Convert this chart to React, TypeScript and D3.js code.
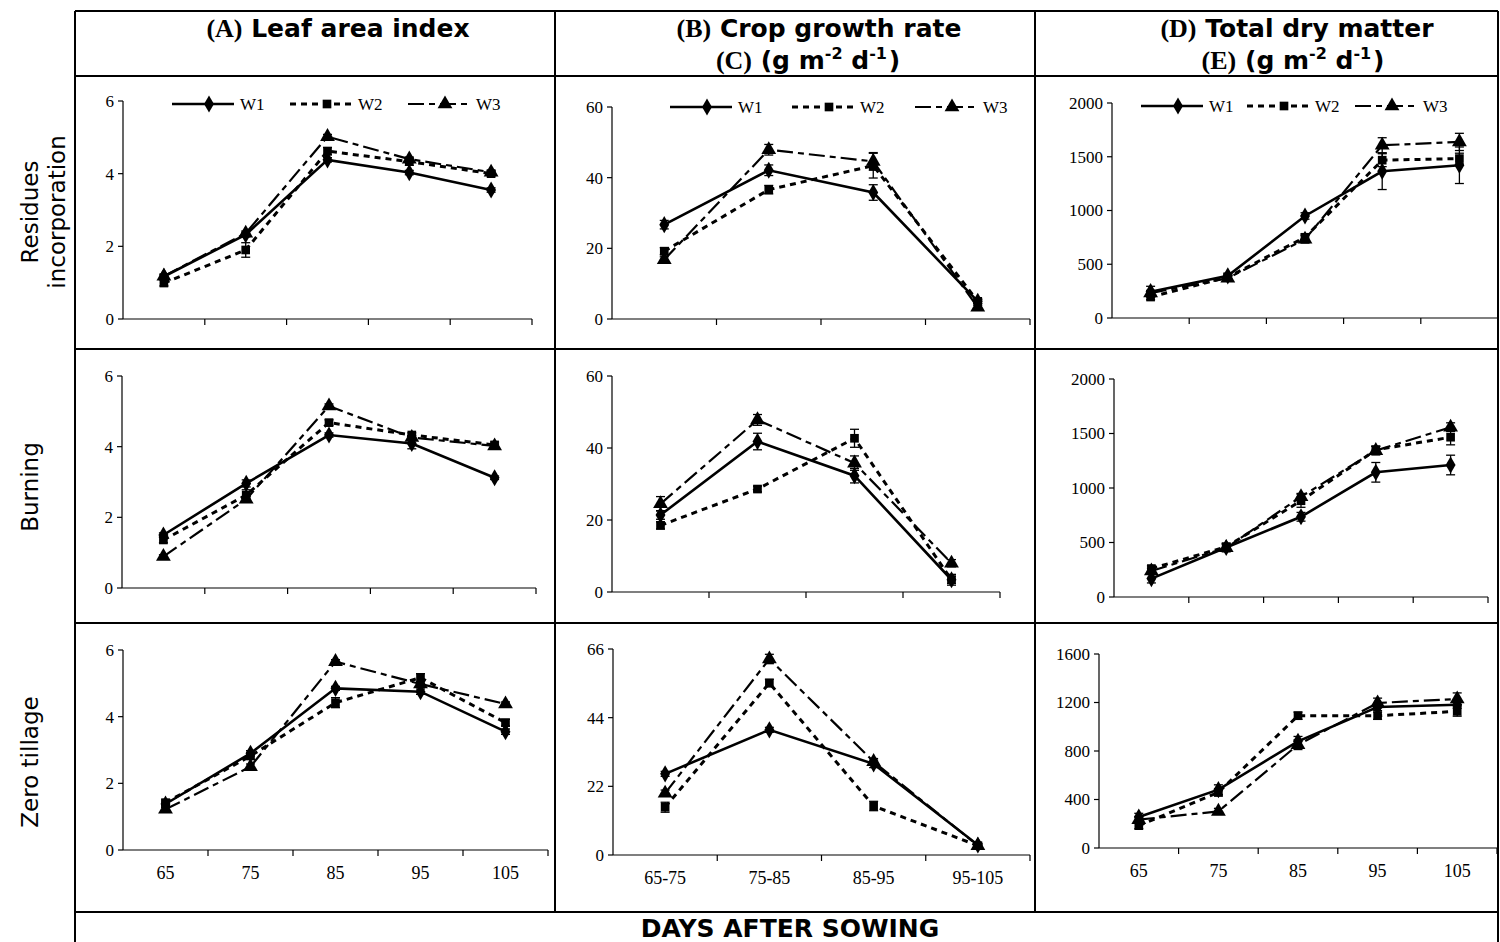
import * as d3 from "d3";

// category labels
const days = ["65", "75", "85", "95", "105"];
const periods = ["65-75", "75-85", "85-95", "95-105"];
const seriesNames = ["W1", "W2", "W3"];

// Leaf area index (W1, W2, W3)
const laiResidues = [
  [1.17, 2.32, 4.38, 4.03, 3.55],
  [0.99, 1.9, 4.62, 4.33, 4.0],
  [1.18, 2.36, 5.02, 4.4, 4.04],
];
const laiResiduesErr = [
  [0.05, 0.06, 0.06, 0.06, 0.06],
  [0.08, 0.2, 0.1, 0.1, 0.06],
  [0.06, 0.06, 0.06, 0.06, 0.05],
];
const laiBurning = [
  [1.5, 2.96, 4.33, 4.09, 3.12],
  [1.36, 2.63, 4.68, 4.33, 4.05],
  [0.89, 2.51, 5.15, 4.26, 4.02],
];
const laiBurningErr = [
  [0.06, 0.1, 0.06, 0.15, 0.05],
  [0.08, 0.15, 0.08, 0.06, 0.08],
  [0.05, 0.08, 0.06, 0.06, 0.05],
];
const laiZero = [
  [1.38, 2.9, 4.85, 4.75, 3.55],
  [1.42, 2.82, 4.42, 5.17, 3.82],
  [1.22, 2.5, 5.65, 4.98, 4.38],
];
const laiZeroErr = [
  [0.06, 0.08, 0.06, 0.08, 0.08],
  [0.08, 0.1, 0.15, 0.12, 0.1],
  [0.06, 0.08, 0.06, 0.06, 0.06],
];

// Crop growth rate (g m-2 d-1)
const cgrResidues = [
  [26.7, 42.1, 35.8, 5.0],
  [19.2, 36.6, 43.4, 5.0],
  [16.8, 47.9, 44.6, 3.3],
];
const cgrResiduesErr = [
  [1.2, 1.5, 2.2, 0.6],
  [1.0, 1.2, 3.5, 0.6],
  [0.8, 1.5, 2.5, 0.6],
];
const cgrBurning = [
  [21.4, 41.8, 32.3, 3.4],
  [18.5, 28.6, 42.7, 3.4],
  [24.5, 47.8, 35.8, 8.0],
];
const cgrBurningErr = [
  [1.2, 2.3, 2.0, 1.5],
  [1.0, 0.8, 2.5, 1.0],
  [2.0, 1.5, 2.0, 1.0],
];
const cgrZero = [
  [26.0, 40.1, 29.2, 3.2],
  [15.3, 55.1, 15.7, 3.0],
  [19.8, 62.8, 29.9, 3.0],
];
const cgrZeroErr = [
  [0.8, 0.8, 1.2, 0.6],
  [1.6, 1.2, 1.5, 0.6],
  [1.0, 1.5, 1.0, 0.6],
];

// Total dry matter
const tdmResidues = [
  [245, 392, 949, 1365, 1421],
  [195, 380, 751, 1468, 1483],
  [232, 371, 732, 1607, 1638],
];
const tdmResiduesErr = [
  [50, 25, 30, 170, 170],
  [25, 25, 30, 60, 50],
  [25, 25, 35, 70, 80],
];
const tdmBurning = [
  [169, 454, 736, 1144, 1211],
  [261, 460, 883, 1349, 1466],
  [239, 451, 920, 1343, 1558],
];
const tdmBurningErr = [
  [40, 40, 40, 90, 90],
  [25, 30, 60, 35, 70],
  [25, 30, 30, 40, 40],
];
const tdmZero = [
  [256, 481, 880, 1163, 1182],
  [184, 459, 1091, 1091, 1127],
  [234, 302, 852, 1196, 1229],
];
const tdmZeroErr = [
  [30, 40, 40, 30, 30],
  [25, 30, 30, 30, 40],
  [25, 25, 40, 40, 50],
];

const laiTicks = [0, 2, 4, 6];
const cgrTicks = [0, 20, 40, 60];
const cgrZeroTicks = [0, 22, 44, 66];
const tdmTicks = [0, 500, 1000, 1500, 2000];
const tdmZeroTicks = [0, 400, 800, 1200, 1600];

const rowLabels = [["Residues", "incorporation"], ["Burning"], ["Zero tillage"]];

// layout
const gridX = [75, 555, 1035, 1498];
const gridY = [11, 76, 349, 623, 912];
const rowLabelY = [212, 487, 762];

const boxes = [
  [
    { x0: 123, x1: 532, yTop: 101, yBot: 319 },
    { x0: 612, x1: 1030, yTop: 107, yBot: 319 },
    { x0: 1112, x1: 1498, yTop: 103, yBot: 318 },
  ],
  [
    { x0: 122, x1: 536, yTop: 376, yBot: 588 },
    { x0: 612, x1: 1000, yTop: 376, yBot: 592 },
    { x0: 1114, x1: 1488, yTop: 379, yBot: 597 },
  ],
  [
    { x0: 123, x1: 548, yTop: 650, yBot: 850 },
    { x0: 613, x1: 1030, yTop: 649, yBot: 855 },
    { x0: 1099, x1: 1497, yTop: 654, yBot: 848 },
  ],
];

const legendX = [
  [172, 290, 408],
  [670, 792, 915],
  [1141, 1247, 1355],
];
const legendY = [104, 107, 106];
const legendLen = 62;

const panels = [
  [
    { cats: days, values: laiResidues, errs: laiResiduesErr, ticks: laiTicks },
    { cats: periods, values: cgrResidues, errs: cgrResiduesErr, ticks: cgrTicks },
    { cats: days, values: tdmResidues, errs: tdmResiduesErr, ticks: tdmTicks },
  ],
  [
    { cats: days, values: laiBurning, errs: laiBurningErr, ticks: laiTicks },
    { cats: periods, values: cgrBurning, errs: cgrBurningErr, ticks: cgrTicks },
    { cats: days, values: tdmBurning, errs: tdmBurningErr, ticks: tdmTicks },
  ],
  [
    { cats: days, values: laiZero, errs: laiZeroErr, ticks: laiTicks },
    { cats: periods, values: cgrZero, errs: cgrZeroErr, ticks: cgrZeroTicks },
    { cats: days, values: tdmZero, errs: tdmZeroErr, ticks: tdmZeroTicks },
  ],
];

const dashes = ["none", "6,5", "16,5,6,5"];
const widths = [2.6, 3, 2.2];
const symbols = [d3.symbolDiamond, d3.symbolSquare, d3.symbolTriangle];
const symbolSizes = [85, 75, 95];

const serif = "'Liberation Serif', 'Times New Roman', serif";
const sans = "'DejaVu Sans', Verdana, sans-serif";

const Panel = ({ row, col }) => {
  const p = panels[row][col];
  const b = boxes[row][col];
  const x = d3.scaleBand().domain(p.cats).range([b.x0, b.x1]).paddingInner(0).paddingOuter(0);
  const yMax = p.ticks[p.ticks.length - 1];
  const y = d3.scaleLinear().domain([0, yMax]).range([b.yBot, b.yTop]);
  const cx = (c) => x(c) + x.bandwidth() / 2;
  const line = d3
    .line<number>()
    .x((_, i) => cx(p.cats[i]))
    .y((v) => y(v));

  return (
    <g>
      {/* axes */}
      <line x1={b.x0} x2={b.x0} y1={y(0)} y2={y(yMax)} stroke="#000" strokeWidth={1.2} />
      {p.ticks.map((t) => (
        <g key={t}>
          <line x1={b.x0 - 5} x2={b.x0} y1={y(t)} y2={y(t)} stroke="#000" strokeWidth={1.2} />
          <text x={b.x0 - 9} y={y(t)} dy="0.35em" textAnchor="end" fontFamily={serif} fontSize={17}>
            {t}
          </text>
        </g>
      ))}
      <line x1={b.x0} x2={b.x1} y1={y(0)} y2={y(0)} stroke="#000" strokeWidth={1.2} />
      {p.cats.map((c) => (
        <line
          key={c}
          x1={x(c) + x.bandwidth()}
          x2={x(c) + x.bandwidth()}
          y1={y(0)}
          y2={y(0) + 6}
          stroke="#000"
          strokeWidth={1.2}
        />
      ))}
      {row === 2 &&
        p.cats.map((c) => (
          <text key={c} x={cx(c)} y={y(0) + 29} textAnchor="middle" fontFamily={serif} fontSize={18}>
            {c}
          </text>
        ))}

      {/* series */}
      {p.values.map((vals, s) => (
        <path
          key={"l" + s}
          d={line(vals)}
          fill="none"
          stroke="#000"
          strokeWidth={widths[s]}
          strokeDasharray={dashes[s]}
        />
      ))}
      {p.values.map((vals, s) =>
        vals.map((v, i) => {
          const e = p.errs[s][i];
          const px = cx(p.cats[i]);
          return (
            <g key={"e" + s + i} stroke="#000" strokeWidth={1.3}>
              <line x1={px} x2={px} y1={y(v - e)} y2={y(v + e)} />
              <line x1={px - 4.5} x2={px + 4.5} y1={y(v - e)} y2={y(v - e)} />
              <line x1={px - 4.5} x2={px + 4.5} y1={y(v + e)} y2={y(v + e)} />
            </g>
          );
        })
      )}
      {p.values.map((vals, s) =>
        vals.map((v, i) => (
          <path
            key={"m" + s + i}
            d={d3.symbol(symbols[s], symbolSizes[s])()}
            transform={`translate(${cx(p.cats[i])},${y(v)})`}
            fill="#000"
          />
        ))
      )}

      {/* legend */}
      {row === 0 &&
        seriesNames.map((name, s) => {
          const lx = legendX[col][s];
          const ly = legendY[col];
          return (
            <g key={name}>
              <line
                x1={lx}
                x2={lx + legendLen}
                y1={ly}
                y2={ly}
                stroke="#000"
                strokeWidth={widths[s]}
                strokeDasharray={dashes[s]}
              />
              <path
                d={d3.symbol(symbols[s], symbolSizes[s])()}
                transform={`translate(${lx + legendLen / 2 + 6},${ly})`}
                fill="#000"
              />
              <text x={lx + legendLen + 6} y={ly} dy="0.35em" fontFamily={serif} fontSize={17}>
                {name}
              </text>
            </g>
          );
        })}
    </g>
  );
};

const Sup = ({ children }) => (
  <>
    <tspan dy={-10} fontSize={16}>
      {children}
    </tspan>
    <tspan dy={10}> </tspan>
  </>
);

const App = () => {
  return (
    <svg
      width={1500}
      height={942}
      viewBox="0 0 1500 942"
      style={{ position: "absolute", left: 0, top: 0, background: "#fff" }}
    >
      <rect width={1500} height={942} fill="#fff" />

      {/* table frame */}
      <g stroke="#000" strokeWidth={2}>
        <line x1={gridX[0]} x2={gridX[0]} y1={gridY[0]} y2={942} />
        <line x1={gridX[3]} x2={gridX[3]} y1={gridY[0]} y2={942} />
        <line x1={gridX[1]} x2={gridX[1]} y1={gridY[0]} y2={gridY[4]} />
        <line x1={gridX[2]} x2={gridX[2]} y1={gridY[0]} y2={gridY[4]} />
        {gridY.map((gy) => (
          <line key={gy} x1={gridX[0]} x2={gridX[3]} y1={gy} y2={gy} />
        ))}
      </g>

      {/* column headers */}
      <text x={338} y={37} textAnchor="middle" fontWeight="bold">
        <tspan fontFamily={serif} fontSize={26}>(A)</tspan>
        <tspan fontFamily={sans} fontSize={25}> Leaf area index</tspan>
      </text>
      <text x={819} y={37} textAnchor="middle" fontWeight="bold">
        <tspan fontFamily={serif} fontSize={26}>(B)</tspan>
        <tspan fontFamily={sans} fontSize={25}> Crop growth rate</tspan>
      </text>
      <text x={808} y={69} textAnchor="middle" fontWeight="bold">
        <tspan fontFamily={serif} fontSize={26}>(C)</tspan>
        <tspan fontFamily={sans} fontSize={25}>
          {" (g m"}
          <Sup>-2</Sup>
          {"d"}
          <Sup>-1</Sup>
        </tspan>
        <tspan fontFamily={sans} fontSize={25} dx={-7}>)</tspan>
      </text>
      <text x={1297} y={37} textAnchor="middle" fontWeight="bold">
        <tspan fontFamily={serif} fontSize={26}>(D)</tspan>
        <tspan fontFamily={sans} fontSize={25}> Total dry matter</tspan>
      </text>
      <text x={1293} y={69} textAnchor="middle" fontWeight="bold">
        <tspan fontFamily={serif} fontSize={26}>(E)</tspan>
        <tspan fontFamily={sans} fontSize={25}>
          {" (g m"}
          <Sup>-2</Sup>
          {"d"}
          <Sup>-1</Sup>
        </tspan>
        <tspan fontFamily={sans} fontSize={25} dx={-7}>)</tspan>
      </text>

      {/* row labels */}
      {rowLabels.map((lines, r) => (
        <text
          key={r}
          transform={`translate(30,${rowLabelY[r]}) rotate(-90)`}
          textAnchor="middle"
          fontFamily={sans}
          fontSize={23}
        >
          {lines.map((t, i) => (
            <tspan key={t} x={0} y={i * 27} dy="0.35em">
              {t}
            </tspan>
          ))}
        </text>
      ))}

      {/* panels */}
      {panels.map((rowPanels, r) => rowPanels.map((_, c) => <Panel key={r + "-" + c} row={r} col={c} />))}

      <text x={790} y={937} textAnchor="middle" fontFamily={sans} fontWeight="bold" fontSize={25}>
        DAYS AFTER SOWING
      </text>
    </svg>
  );
};

export default App;
